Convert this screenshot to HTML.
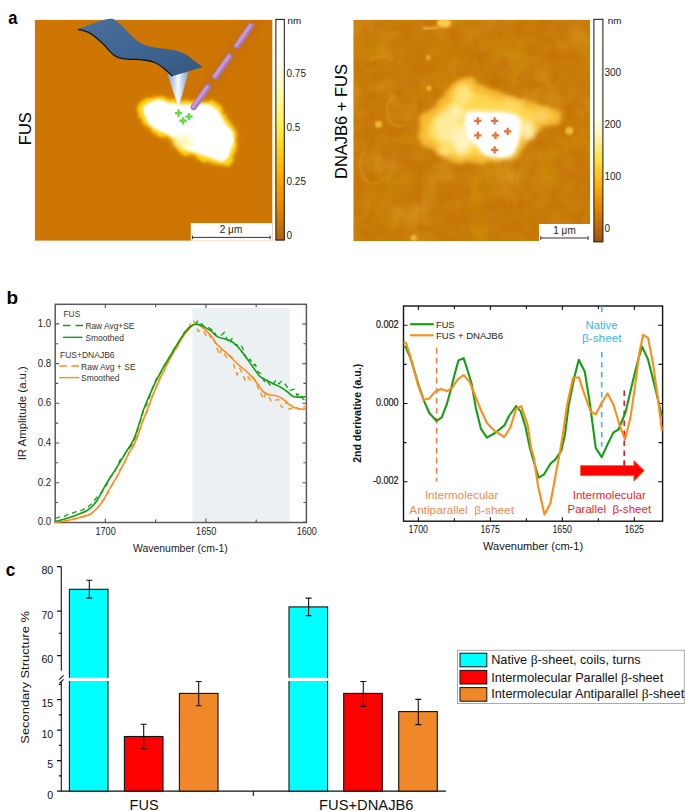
<!DOCTYPE html>
<html><head><meta charset="utf-8"><title>Figure</title><style>
html,body{margin:0;padding:0;background:#fff;width:685px;height:811px;overflow:hidden}
svg{display:block}
text{font-family:"Liberation Sans",sans-serif}
</style></head><body>
<svg width="685" height="811" viewBox="0 0 685 811">
<text x="8.3" y="24.2" font-size="18.0" text-anchor="start" fill="#000" font-weight="bold" textLength="9.2" lengthAdjust="spacingAndGlyphs">a</text>
<text x="6.6" y="303.6" font-size="18.0" text-anchor="start" fill="#000" font-weight="bold" textLength="11.6" lengthAdjust="spacingAndGlyphs">b</text>
<text x="5.7" y="576.4" font-size="17.5" text-anchor="start" fill="#000" font-weight="bold" textLength="9.6" lengthAdjust="spacingAndGlyphs">c</text>
<defs>
<filter id="blur3" x="-30%" y="-30%" width="160%" height="160%"><feGaussianBlur stdDeviation="3"/></filter>
<filter id="blur2" x="-30%" y="-30%" width="160%" height="160%"><feGaussianBlur stdDeviation="2"/></filter>
<filter id="blur1" x="-30%" y="-30%" width="160%" height="160%"><feGaussianBlur stdDeviation="1.2"/></filter>
<filter id="erode3" x="-30%" y="-30%" width="160%" height="160%"><feMorphology operator="erode" radius="3"/><feGaussianBlur stdDeviation="1.3"/></filter>
<filter id="erode6" x="-30%" y="-30%" width="160%" height="160%"><feMorphology operator="erode" radius="6"/><feGaussianBlur stdDeviation="2.5"/></filter>
<filter id="bumpy" x="-30%" y="-30%" width="160%" height="160%"><feTurbulence type="fractalNoise" baseFrequency="0.09" numOctaves="2" seed="4" result="n"/><feDisplacementMap in="SourceGraphic" in2="n" scale="9" xChannelSelector="R" yChannelSelector="G" result="d"/><feGaussianBlur in="d" stdDeviation="1.6"/></filter>
<filter id="bumpy2" x="-30%" y="-30%" width="160%" height="160%"><feTurbulence type="fractalNoise" baseFrequency="0.07" numOctaves="2" seed="8" result="n"/><feDisplacementMap in="SourceGraphic" in2="n" scale="13" xChannelSelector="R" yChannelSelector="G" result="d"/><feGaussianBlur in="d" stdDeviation="2.0"/></filter>
<filter id="blur5" x="-30%" y="-30%" width="160%" height="160%"><feGaussianBlur stdDeviation="5"/></filter>
<filter id="noise1" x="0" y="0" width="100%" height="100%">
  <feTurbulence type="fractalNoise" baseFrequency="0.08" numOctaves="2" seed="3" result="t"/>
  <feColorMatrix in="t" type="matrix" values="0 0 0 0 0.80  0 0 0 0 0.47  0 0 0 0 0.02  0 0 0 0.25 -0.02" result="c"/>
  <feComposite in="c" in2="SourceGraphic" operator="in"/>
</filter>
<filter id="noise3" x="0" y="0" width="100%" height="100%">
  <feTurbulence type="fractalNoise" baseFrequency="0.03" numOctaves="3" seed="21" result="t"/>
  <feColorMatrix in="t" type="matrix" values="0 0 0 0 0.62  0 0 0 0 0.34  0 0 0 0 0.0  0 0 0 1.0 -0.50" result="c"/>
  <feComposite in="c" in2="SourceGraphic" operator="in"/>
</filter>
<filter id="noise2" x="0" y="0" width="100%" height="100%">
  <feTurbulence type="fractalNoise" baseFrequency="0.025" numOctaves="3" seed="11" result="t"/>
  <feColorMatrix in="t" type="matrix" values="0 0 0 0 0.88  0 0 0 0 0.54  0 0 0 0 0.06  0 0 0 0.8 -0.40" result="c"/>
  <feComposite in="c" in2="SourceGraphic" operator="in"/>
</filter>
<linearGradient id="cb1" x1="0" y1="0" x2="0" y2="1">
  <stop offset="0" stop-color="#ffffff"/>
  <stop offset="0.2" stop-color="#fffff0"/>
  <stop offset="0.34" stop-color="#fffaa8"/>
  <stop offset="0.47" stop-color="#fff250"/>
  <stop offset="0.58" stop-color="#ffd420"/>
  <stop offset="0.70" stop-color="#ffac00"/>
  <stop offset="0.84" stop-color="#e88a00"/>
  <stop offset="1" stop-color="#b06212"/>
</linearGradient>
<linearGradient id="cb2" x1="0" y1="0" x2="0" y2="1">
  <stop offset="0" stop-color="#ffffff"/>
  <stop offset="0.44" stop-color="#fffff2"/>
  <stop offset="0.53" stop-color="#fff4b0"/>
  <stop offset="0.63" stop-color="#ffe040"/>
  <stop offset="0.73" stop-color="#ffb410"/>
  <stop offset="0.83" stop-color="#e88a00"/>
  <stop offset="1" stop-color="#a05010"/>
</linearGradient>
<linearGradient id="cant" x1="0" y1="0" x2="1" y2="1">
  <stop offset="0" stop-color="#4a6f9c"/>
  <stop offset="0.5" stop-color="#3f6592"/>
  <stop offset="1" stop-color="#35577f"/>
</linearGradient>
<linearGradient id="tipg" x1="0" y1="0" x2="1" y2="0">
  <stop offset="0" stop-color="#7f9fc8"/>
  <stop offset="0.5" stop-color="#f4f8ff"/>
  <stop offset="1" stop-color="#7f9fc8"/>
</linearGradient>
<clipPath id="clip1"><rect x="35" y="20" width="237.3" height="220.7"/></clipPath>
<clipPath id="clip2"><rect x="353.3" y="19.7" width="236.7" height="221.3"/></clipPath>
</defs>
<g clip-path="url(#clip1)">
<rect x="35" y="20" width="237.3" height="220.7" fill="#cd7603"/>
<line x1="262" y1="12" x2="192.7" y2="108.6" stroke="#b05a20" stroke-width="16" opacity="0.2" filter="url(#blur3)"/>
<path d="M140.5,104.3 C141.8,102.2 144.9,100.3 147.5,99.0 C150.1,97.7 153.4,96.7 156.3,96.4 C159.2,96.1 162.4,96.7 165.0,97.3 C167.6,97.9 169.1,99.3 172.0,99.9 C174.9,100.5 179.3,100.5 182.5,100.8 C185.7,101.1 187.8,101.6 191.3,101.6 C194.8,101.6 200.1,100.8 203.6,100.8 C207.1,100.8 209.4,100.4 212.3,101.6 C215.2,102.8 218.5,104.7 221.1,107.8 C223.7,110.9 225.8,116.7 228.1,120.0 C230.4,123.3 233.6,125.3 235.1,127.9 C236.6,130.5 236.5,133.0 236.8,135.8 C237.1,138.6 237.4,141.3 236.8,144.5 C236.2,147.7 234.5,152.1 233.3,155.0 C232.1,157.9 231.8,160.3 229.8,162.1 C227.8,163.9 224.3,165.6 221.1,165.6 C217.9,165.6 214.1,163.3 210.6,162.1 C207.1,160.9 203.5,159.8 200.0,158.6 C196.5,157.4 192.7,156.2 189.5,155.0 C186.3,153.8 183.1,153.2 180.8,151.5 C178.5,149.8 178.1,146.8 175.5,144.5 C172.9,142.2 168.2,139.2 165.0,137.5 C161.8,135.8 159.2,135.4 156.3,134.0 C153.4,132.6 149.8,131.1 147.5,128.8 C145.2,126.5 143.6,122.9 142.3,120.0 C141.0,117.1 139.9,113.9 139.6,111.3 C139.3,108.7 139.2,106.3 140.5,104.3Z" fill="#e69010" filter="url(#blur3)"/>
<path d="M140.5,104.3 C141.8,102.2 144.9,100.3 147.5,99.0 C150.1,97.7 153.4,96.7 156.3,96.4 C159.2,96.1 162.4,96.7 165.0,97.3 C167.6,97.9 169.1,99.3 172.0,99.9 C174.9,100.5 179.3,100.5 182.5,100.8 C185.7,101.1 187.8,101.6 191.3,101.6 C194.8,101.6 200.1,100.8 203.6,100.8 C207.1,100.8 209.4,100.4 212.3,101.6 C215.2,102.8 218.5,104.7 221.1,107.8 C223.7,110.9 225.8,116.7 228.1,120.0 C230.4,123.3 233.6,125.3 235.1,127.9 C236.6,130.5 236.5,133.0 236.8,135.8 C237.1,138.6 237.4,141.3 236.8,144.5 C236.2,147.7 234.5,152.1 233.3,155.0 C232.1,157.9 231.8,160.3 229.8,162.1 C227.8,163.9 224.3,165.6 221.1,165.6 C217.9,165.6 214.1,163.3 210.6,162.1 C207.1,160.9 203.5,159.8 200.0,158.6 C196.5,157.4 192.7,156.2 189.5,155.0 C186.3,153.8 183.1,153.2 180.8,151.5 C178.5,149.8 178.1,146.8 175.5,144.5 C172.9,142.2 168.2,139.2 165.0,137.5 C161.8,135.8 159.2,135.4 156.3,134.0 C153.4,132.6 149.8,131.1 147.5,128.8 C145.2,126.5 143.6,122.9 142.3,120.0 C141.0,117.1 139.9,113.9 139.6,111.3 C139.3,108.7 139.2,106.3 140.5,104.3Z" fill="#ffd414" filter="url(#bumpy)"/>
<path d="M140.5,104.3 C141.8,102.2 144.9,100.3 147.5,99.0 C150.1,97.7 153.4,96.7 156.3,96.4 C159.2,96.1 162.4,96.7 165.0,97.3 C167.6,97.9 169.1,99.3 172.0,99.9 C174.9,100.5 179.3,100.5 182.5,100.8 C185.7,101.1 187.8,101.6 191.3,101.6 C194.8,101.6 200.1,100.8 203.6,100.8 C207.1,100.8 209.4,100.4 212.3,101.6 C215.2,102.8 218.5,104.7 221.1,107.8 C223.7,110.9 225.8,116.7 228.1,120.0 C230.4,123.3 233.6,125.3 235.1,127.9 C236.6,130.5 236.5,133.0 236.8,135.8 C237.1,138.6 237.4,141.3 236.8,144.5 C236.2,147.7 234.5,152.1 233.3,155.0 C232.1,157.9 231.8,160.3 229.8,162.1 C227.8,163.9 224.3,165.6 221.1,165.6 C217.9,165.6 214.1,163.3 210.6,162.1 C207.1,160.9 203.5,159.8 200.0,158.6 C196.5,157.4 192.7,156.2 189.5,155.0 C186.3,153.8 183.1,153.2 180.8,151.5 C178.5,149.8 178.1,146.8 175.5,144.5 C172.9,142.2 168.2,139.2 165.0,137.5 C161.8,135.8 159.2,135.4 156.3,134.0 C153.4,132.6 149.8,131.1 147.5,128.8 C145.2,126.5 143.6,122.9 142.3,120.0 C141.0,117.1 139.9,113.9 139.6,111.3 C139.3,108.7 139.2,106.3 140.5,104.3Z" fill="#ffffff" filter="url(#erode3)"/>
<ellipse cx="183" cy="142" rx="9" ry="6" fill="#fff4b0" filter="url(#blur3)"/>
</g>
<rect x="35" y="20" width="237.3" height="220.7" fill="none" stroke="#d08a3a" stroke-width="0.6" opacity="0.5"/>
<path d="M167.5,74.5 L188.5,72 L178.5,108 Z" fill="url(#tipg)"/>
<path d="M77.8,29.3 C82.8,27.6 100.9,20.1 107.8,19.1 C114.7,18.1 115.1,20.5 119.0,23.2 C122.9,25.9 127.6,32.0 131.3,35.4 C135.1,38.8 137.4,41.5 141.5,43.6 C145.6,45.7 150.7,46.7 155.8,47.7 C160.9,48.7 167.4,48.7 172.2,49.7 C177.0,50.7 180.7,51.9 184.4,53.8 C188.2,55.7 191.6,58.8 194.7,61.0 C197.8,63.2 201.5,66.1 202.8,67.1 L172.2,76.3 C171.2,75.3 168.8,72.4 166.1,70.2 C163.4,68.0 159.6,64.7 155.8,63.0 C152.1,61.3 148.7,60.7 143.6,60.0 C138.5,59.3 130.0,59.6 125.2,58.9 C120.4,58.2 118.8,58.4 115.0,55.9 C111.2,53.4 106.8,47.4 102.7,43.6 C98.6,39.9 94.6,35.8 90.4,33.4 C86.2,31.0 79.9,30.0 77.8,29.3Z" fill="url(#cant)"/>
<path d="M77.8,29.3 C79.9,30.0 86.2,31.0 90.4,33.4 C94.6,35.8 98.6,39.9 102.7,43.6 C106.8,47.4 111.2,53.4 115.0,55.9 C118.8,58.4 120.4,58.2 125.2,58.9 C130.0,59.6 138.5,59.3 143.6,60.0 C148.7,60.7 152.1,61.3 155.8,63.0 C159.6,64.7 163.4,68.0 166.1,70.2 C168.8,72.4 171.2,75.3 172.2,76.3" fill="none" stroke="#111820" stroke-width="1.3"/>
<line x1="251" y1="25.8" x2="192.7" y2="108.6" stroke="#a878c0" stroke-width="6.2" stroke-linecap="round" stroke-dasharray="24.5 13"/>
<line x1="251" y1="25.8" x2="192.7" y2="108.6" stroke="#c49ad8" stroke-width="3" stroke-linecap="round" stroke-dasharray="24.5 13" transform="translate(-0.6,-0.4)"/>
<path d="M174.9,113.1 h7.2 M178.5,109.5 v7.2" stroke="#5ce040" stroke-width="2.4"/>
<path d="M185.4,116.5 h7.2 M189.0,112.9 v7.2" stroke="#5ce040" stroke-width="2.4"/>
<path d="M179.5,120.8 h7.2 M183.1,117.2 v7.2" stroke="#5ce040" stroke-width="2.4"/>
<rect x="190.8" y="223.1" width="81.3" height="17.6" fill="#fff"/>
<path d="M192.2,237.4 H270.3 M192.4,235.6 V239.2 M270.1,235.6 V239.2" stroke="#333" stroke-width="1"/>
<text x="231.0" y="233.3" font-size="10.0" text-anchor="middle" fill="#222" font-weight="normal">2 μm</text>
<rect x="275.9" y="19.4" width="8.4" height="220.7" fill="url(#cb1)" stroke="#111" stroke-width="1"/>
<text x="287.5" y="24.2" font-size="9.8" text-anchor="start" fill="#111" font-weight="normal">nm</text>
<text x="286.5" y="76.5" font-size="10.0" text-anchor="start" fill="#222" font-weight="normal">0.75</text>
<text x="286.5" y="130.5" font-size="10.0" text-anchor="start" fill="#222" font-weight="normal">0.5</text>
<text x="286.5" y="184.5" font-size="10.0" text-anchor="start" fill="#222" font-weight="normal">0.25</text>
<text x="286.5" y="239.2" font-size="10.0" text-anchor="start" fill="#222" font-weight="normal">0</text>
<text transform="translate(31,128.7) rotate(-90)" font-size="16.5" text-anchor="middle" fill="#000">FUS</text>
<g clip-path="url(#clip2)">
<rect x="353.3" y="19.7" width="236.7" height="221.3" fill="#c47206"/>
<rect x="353.3" y="19.7" width="236.7" height="221.3" fill="#000" filter="url(#noise1)"/>
<rect x="353.3" y="19.7" width="236.7" height="221.3" fill="#000" filter="url(#noise2)"/>
<rect x="353.3" y="19.7" width="236.7" height="221.3" fill="#000" filter="url(#noise3)"/>
<path d="M375,20 L372,241 M418,20 L421,241 M470,20 L520,241 M540,20 L505,241 M365,150 L460,241" stroke="#b06a08" stroke-width="0.7" opacity="0.25" fill="none"/>
<path d="M395,95 q-12,10 -6,25 q6,10 16,4 M365,150 q-10,15 0,30 q10,8 18,-2 M370,60 q10,-8 22,0" stroke="#dc9a2a" stroke-width="2" opacity="0.6" fill="none" filter="url(#blur1)"/>
<path d="M419.3,137.8 C419.7,133.5 421.6,121.8 424.0,116.7 C426.4,111.6 429.9,110.9 433.4,107.4 C436.9,103.9 441.1,100.0 445.0,95.7 C448.9,91.4 452.8,84.4 456.7,81.7 C460.6,79.0 464.9,78.5 468.4,79.3 C471.9,80.1 474.3,84.8 477.8,86.4 C481.3,88.0 485.5,87.5 489.4,88.7 C493.3,89.9 497.2,91.9 501.1,93.4 C505.0,95.0 508.5,96.8 512.8,98.0 C517.1,99.2 522.1,98.8 526.8,100.4 C531.5,102.0 536.1,105.9 540.8,107.4 C545.5,109.0 551.4,108.9 554.9,109.7 C558.4,110.5 561.1,110.1 561.9,112.1 C562.7,114.0 562.2,119.1 559.5,121.4 C556.8,123.7 549.8,124.5 545.5,126.1 C541.2,127.6 537.3,127.6 533.8,130.7 C530.3,133.8 527.2,140.5 524.5,144.8 C521.8,149.1 521.0,153.9 517.5,156.4 C514.0,158.9 508.2,159.4 503.5,160.0 C498.8,160.6 494.1,159.8 489.4,160.0 C484.7,160.2 480.1,160.5 475.4,161.1 C470.7,161.7 465.7,163.5 461.4,163.5 C457.1,163.5 453.2,163.0 449.7,161.1 C446.2,159.2 443.9,154.1 440.4,151.8 C436.9,149.5 431.8,148.7 428.7,147.1 C425.6,145.5 423.3,143.9 421.7,142.4 C420.1,140.9 418.9,142.1 419.3,137.8Z" fill="#e0a028" filter="url(#blur3)"/>
<path d="M419.3,137.8 C419.7,133.5 421.6,121.8 424.0,116.7 C426.4,111.6 429.9,110.9 433.4,107.4 C436.9,103.9 441.1,100.0 445.0,95.7 C448.9,91.4 452.8,84.4 456.7,81.7 C460.6,79.0 464.9,78.5 468.4,79.3 C471.9,80.1 474.3,84.8 477.8,86.4 C481.3,88.0 485.5,87.5 489.4,88.7 C493.3,89.9 497.2,91.9 501.1,93.4 C505.0,95.0 508.5,96.8 512.8,98.0 C517.1,99.2 522.1,98.8 526.8,100.4 C531.5,102.0 536.1,105.9 540.8,107.4 C545.5,109.0 551.4,108.9 554.9,109.7 C558.4,110.5 561.1,110.1 561.9,112.1 C562.7,114.0 562.2,119.1 559.5,121.4 C556.8,123.7 549.8,124.5 545.5,126.1 C541.2,127.6 537.3,127.6 533.8,130.7 C530.3,133.8 527.2,140.5 524.5,144.8 C521.8,149.1 521.0,153.9 517.5,156.4 C514.0,158.9 508.2,159.4 503.5,160.0 C498.8,160.6 494.1,159.8 489.4,160.0 C484.7,160.2 480.1,160.5 475.4,161.1 C470.7,161.7 465.7,163.5 461.4,163.5 C457.1,163.5 453.2,163.0 449.7,161.1 C446.2,159.2 443.9,154.1 440.4,151.8 C436.9,149.5 431.8,148.7 428.7,147.1 C425.6,145.5 423.3,143.9 421.7,142.4 C420.1,140.9 418.9,142.1 419.3,137.8Z" fill="#f6bc34" filter="url(#bumpy2)"/>
<path d="M419.3,137.8 C419.7,133.5 421.6,121.8 424.0,116.7 C426.4,111.6 429.9,110.9 433.4,107.4 C436.9,103.9 441.1,100.0 445.0,95.7 C448.9,91.4 452.8,84.4 456.7,81.7 C460.6,79.0 464.9,78.5 468.4,79.3 C471.9,80.1 474.3,84.8 477.8,86.4 C481.3,88.0 485.5,87.5 489.4,88.7 C493.3,89.9 497.2,91.9 501.1,93.4 C505.0,95.0 508.5,96.8 512.8,98.0 C517.1,99.2 522.1,98.8 526.8,100.4 C531.5,102.0 536.1,105.9 540.8,107.4 C545.5,109.0 551.4,108.9 554.9,109.7 C558.4,110.5 561.1,110.1 561.9,112.1 C562.7,114.0 562.2,119.1 559.5,121.4 C556.8,123.7 549.8,124.5 545.5,126.1 C541.2,127.6 537.3,127.6 533.8,130.7 C530.3,133.8 527.2,140.5 524.5,144.8 C521.8,149.1 521.0,153.9 517.5,156.4 C514.0,158.9 508.2,159.4 503.5,160.0 C498.8,160.6 494.1,159.8 489.4,160.0 C484.7,160.2 480.1,160.5 475.4,161.1 C470.7,161.7 465.7,163.5 461.4,163.5 C457.1,163.5 453.2,163.0 449.7,161.1 C446.2,159.2 443.9,154.1 440.4,151.8 C436.9,149.5 431.8,148.7 428.7,147.1 C425.6,145.5 423.3,143.9 421.7,142.4 C420.1,140.9 418.9,142.1 419.3,137.8Z" fill="#ffd850" filter="url(#erode6)"/>
<ellipse cx="447" cy="128" rx="13" ry="16" fill="#ffec9c" filter="url(#blur3)"/>
<ellipse cx="463" cy="95" rx="9" ry="11" fill="#ffe47c" filter="url(#blur3)"/>
<ellipse cx="462" cy="140" rx="10" ry="14" fill="#fff4c0" filter="url(#blur3)"/>
<ellipse cx="456" cy="112" rx="8" ry="8" fill="#fff2b0" filter="url(#blur3)"/>
<ellipse cx="528" cy="130" rx="7" ry="10" fill="#fff0b0" filter="url(#blur3)"/>
<ellipse cx="540" cy="115" rx="10" ry="6" fill="#f8d060" filter="url(#blur3)"/>
<ellipse cx="510" cy="105" rx="12" ry="6" fill="#ffd860" filter="url(#blur3)"/>
<ellipse cx="445" cy="150" rx="8" ry="6" fill="#ffe27a" filter="url(#blur3)"/>
<path d="M466.1,112.1 C468.8,109.6 473.1,110.9 480.1,110.9 C487.1,110.9 501.5,111.1 508.1,112.1 C514.7,113.1 517.5,114.8 519.8,116.7 C522.1,118.6 522.1,119.8 522.1,123.7 C522.1,127.6 521.0,135.4 519.8,140.1 C518.6,144.8 517.0,148.9 515.1,151.8 C513.2,154.7 511.6,156.6 508.1,157.6 C504.6,158.6 498.4,158.2 494.1,157.6 C489.8,157.0 485.1,155.8 482.4,154.1 C479.7,152.3 480.1,149.4 477.8,147.1 C475.5,144.8 470.8,143.6 468.4,140.1 C466.0,136.6 464.1,130.8 463.7,126.1 C463.3,121.4 463.4,114.6 466.1,112.1Z" fill="#fff8d8" filter="url(#blur2)"/>
<path d="M466.1,112.1 C468.8,109.6 473.1,110.9 480.1,110.9 C487.1,110.9 501.5,111.1 508.1,112.1 C514.7,113.1 517.5,114.8 519.8,116.7 C522.1,118.6 522.1,119.8 522.1,123.7 C522.1,127.6 521.0,135.4 519.8,140.1 C518.6,144.8 517.0,148.9 515.1,151.8 C513.2,154.7 511.6,156.6 508.1,157.6 C504.6,158.6 498.4,158.2 494.1,157.6 C489.8,157.0 485.1,155.8 482.4,154.1 C479.7,152.3 480.1,149.4 477.8,147.1 C475.5,144.8 470.8,143.6 468.4,140.1 C466.0,136.6 464.1,130.8 463.7,126.1 C463.3,121.4 463.4,114.6 466.1,112.1Z" fill="#ffffff" filter="url(#blur1)" transform="translate(493,134) scale(0.92) translate(-493,-134)"/>
<circle cx="378.6" cy="124.2" r="3.5" fill="#f0b838" filter="url(#blur1)"/>
<circle cx="569.3" cy="130.7" r="4.0" fill="#f0b838" filter="url(#blur1)"/>
<circle cx="429.0" cy="88.3" r="2.5" fill="#f0b838" filter="url(#blur1)"/>
<circle cx="428.2" cy="57.6" r="2.2" fill="#f0b838" filter="url(#blur1)"/>
<circle cx="413.6" cy="238.0" r="3.0" fill="#f0b838" filter="url(#blur1)"/>
<ellipse cx="444" cy="23" rx="7" ry="4.5" fill="#f8cc48" filter="url(#blur1)"/>
<path d="M424,28 q8,2 16,-2" stroke="#e8a830" stroke-width="3" stroke-linecap="round" fill="none" filter="url(#blur1)"/>
</g>
<path d="M474.1,120.9 h7.4 M477.8,117.2 v7.4" stroke="#e8743a" stroke-width="2.3"/>
<path d="M490.9,120.9 h7.4 M494.6,117.2 v7.4" stroke="#e8743a" stroke-width="2.3"/>
<path d="M474.1,135.4 h7.4 M477.8,131.7 v7.4" stroke="#e8743a" stroke-width="2.3"/>
<path d="M491.8,135.4 h7.4 M495.5,131.7 v7.4" stroke="#e8743a" stroke-width="2.3"/>
<path d="M504.0,131.4 h7.4 M507.7,127.7 v7.4" stroke="#e8743a" stroke-width="2.3"/>
<path d="M490.9,149.9 h7.4 M494.6,146.2 v7.4" stroke="#e8743a" stroke-width="2.3"/>
<rect x="539" y="224" width="51" height="17" fill="#fff"/>
<path d="M540.6,238 H588.3 M540.8,236.2 V239.8 M588.1,236.2 V239.8" stroke="#333" stroke-width="1"/>
<text x="564.5" y="233.8" font-size="10.0" text-anchor="middle" fill="#222" font-weight="normal">1 μm</text>
<rect x="593.9" y="19.3" width="9" height="222.6" fill="url(#cb2)" stroke="#111" stroke-width="1"/>
<text x="607.7" y="23.8" font-size="9.8" text-anchor="start" fill="#111" font-weight="normal">nm</text>
<text x="604.5" y="76.0" font-size="10.0" text-anchor="start" fill="#222" font-weight="normal">300</text>
<text x="604.5" y="127.9" font-size="10.0" text-anchor="start" fill="#222" font-weight="normal">200</text>
<text x="604.5" y="179.7" font-size="10.0" text-anchor="start" fill="#222" font-weight="normal">100</text>
<text x="604.5" y="231.5" font-size="10.0" text-anchor="start" fill="#222" font-weight="normal">0</text>
<text transform="translate(347,121.5) rotate(-90)" font-size="16.5" text-anchor="middle" fill="#000">DNAJB6 + FUS</text>
<rect x="192.4" y="308" width="97.4" height="213.5" fill="#ebf0f3"/>
<rect x="55.2" y="304.3" width="251.2" height="218.2" fill="none" stroke="#5a5a5a" stroke-width="1.5"/>
<path d="M55.2,522.4 h4.0 M306.4,522.4 h-4.0 M55.2,502.5 h3.0 M306.4,502.5 h-3.0 M55.2,482.7 h4.0 M306.4,482.7 h-4.0 M55.2,462.8 h3.0 M306.4,462.8 h-3.0 M55.2,443.0 h4.0 M306.4,443.0 h-4.0 M55.2,423.1 h3.0 M306.4,423.1 h-3.0 M55.2,403.3 h4.0 M306.4,403.3 h-4.0 M55.2,383.4 h3.0 M306.4,383.4 h-3.0 M55.2,363.6 h4.0 M306.4,363.6 h-4.0 M55.2,343.8 h3.0 M306.4,343.8 h-3.0 M55.2,323.9 h4.0 M306.4,323.9 h-4.0 M105.3,522.5 v-4.0 M105.3,304.3 v4.0 M155.6,522.5 v-3.0 M155.6,304.3 v3.0 M205.9,522.5 v-4.0 M205.9,304.3 v4.0 M256.2,522.5 v-3.0 M256.2,304.3 v3.0" stroke="#555" stroke-width="1.1"/>
<text x="51.2" y="525.3" font-size="10.3" text-anchor="end" fill="#222" font-weight="normal" textLength="13.4" lengthAdjust="spacingAndGlyphs">0.0</text>
<text x="51.2" y="485.6" font-size="10.3" text-anchor="end" fill="#222" font-weight="normal" textLength="13.4" lengthAdjust="spacingAndGlyphs">0.2</text>
<text x="51.2" y="445.9" font-size="10.3" text-anchor="end" fill="#222" font-weight="normal" textLength="13.4" lengthAdjust="spacingAndGlyphs">0.4</text>
<text x="51.2" y="406.2" font-size="10.3" text-anchor="end" fill="#222" font-weight="normal" textLength="13.4" lengthAdjust="spacingAndGlyphs">0.6</text>
<text x="51.2" y="366.5" font-size="10.3" text-anchor="end" fill="#222" font-weight="normal" textLength="13.4" lengthAdjust="spacingAndGlyphs">0.8</text>
<text x="51.2" y="326.8" font-size="10.3" text-anchor="end" fill="#222" font-weight="normal" textLength="13.4" lengthAdjust="spacingAndGlyphs">1.0</text>
<text x="105.6" y="534.7" font-size="10.3" text-anchor="middle" fill="#222" font-weight="normal" textLength="20.2" lengthAdjust="spacingAndGlyphs">1700</text>
<text x="206.2" y="534.7" font-size="10.3" text-anchor="middle" fill="#222" font-weight="normal" textLength="20.2" lengthAdjust="spacingAndGlyphs">1650</text>
<text x="306.8" y="534.7" font-size="10.3" text-anchor="middle" fill="#222" font-weight="normal" textLength="20.2" lengthAdjust="spacingAndGlyphs">1600</text>
<text x="180.4" y="552.0" font-size="11.0" text-anchor="middle" fill="#222" font-weight="normal" textLength="94.8" lengthAdjust="spacingAndGlyphs">Wavenumber (cm-1)</text>
<text transform="translate(26.3,413.2) rotate(-90)" font-size="11.7" text-anchor="middle" fill="#222" textLength="94.2" lengthAdjust="spacingAndGlyphs">IR Amplitude (a.u.)</text>
<path d="M55.2,522.6 L57.8,522.1 L60.4,521.2 L63.0,522.0 L65.6,520.5 L68.2,520.4 L70.8,520.8 L73.4,519.0 L76.0,518.7 L78.6,518.4 L81.2,516.8 L83.8,516.1 L86.4,516.0 L89.0,515.0 L91.6,513.8 L94.2,510.8 L96.8,508.4 L99.4,504.8 L102.0,501.4 L104.6,499.2 L107.2,494.2 L109.8,490.1 L112.4,484.4 L115.0,480.8 L117.6,474.3 L120.2,469.3 L122.8,465.4 L125.4,461.1 L128.0,455.1 L130.6,448.8 L133.2,443.9 L135.8,438.5 L138.4,431.5 L141.0,426.6 L143.6,418.2 L146.2,413.4 L148.8,407.8 L151.4,398.5 L154.0,391.9 L156.6,386.0 L159.2,378.7 L161.8,373.9 L164.4,370.6 L167.0,363.6 L169.6,359.7 L172.2,353.5 L174.8,349.9 L177.4,347.4 L180.0,341.2 L182.6,335.2 L185.2,331.2 L187.8,331.4 L190.4,323.9 L193.0,320.4 L195.6,323.7 L198.2,331.3 L200.8,330.4 L203.4,330.9 L206.0,335.4 L208.6,332.7 L211.2,338.7 L213.8,338.8 L216.4,346.0 L219.0,354.6 L221.6,349.4 L224.2,353.8 L226.8,357.7 L229.4,355.4 L232.0,357.1 L234.6,368.0 L237.2,374.8 L239.8,368.5 L242.4,373.5 L245.0,380.1 L247.6,376.2 L250.2,380.1 L252.8,376.6 L255.4,380.6 L258.0,387.9 L260.6,392.7 L263.2,398.9 L265.8,393.4 L268.4,394.5 L271.0,401.2 L273.6,401.2 L276.2,399.9 L278.8,399.6 L281.4,407.0 L284.0,407.2 L286.6,401.8 L289.2,409.3 L291.8,408.0 L294.4,409.4 L297.0,407.5 L299.6,409.2 L302.2,408.8 L304.8,406.0" fill="none" stroke="#ff8c1a" stroke-width="1.3" stroke-dasharray="5 4"/>
<path d="M55.2,518.0 L57.8,517.7 L60.4,516.8 L63.0,516.5 L65.6,516.0 L68.2,514.1 L70.8,512.6 L73.4,513.1 L76.0,511.7 L78.6,510.4 L81.2,510.7 L83.8,509.2 L86.4,508.6 L89.0,506.1 L91.6,503.9 L94.2,500.6 L96.8,497.4 L99.4,494.1 L102.0,492.1 L104.6,488.1 L107.2,483.8 L109.8,477.3 L112.4,474.8 L115.0,470.8 L117.6,465.6 L120.2,459.6 L122.8,457.8 L125.4,453.2 L128.0,449.7 L130.6,446.3 L133.2,441.9 L135.8,435.8 L138.4,426.6 L141.0,419.7 L143.6,410.2 L146.2,405.5 L148.8,399.9 L151.4,390.9 L154.0,384.0 L156.6,378.5 L159.2,376.2 L161.8,370.3 L164.4,366.3 L167.0,360.8 L169.6,356.8 L172.2,352.1 L174.8,347.5 L177.4,343.9 L180.0,340.0 L182.6,337.7 L185.2,330.1 L187.8,328.4 L190.4,326.4 L193.0,325.1 L195.6,323.5 L198.2,320.4 L200.8,323.2 L203.4,325.7 L206.0,327.6 L208.6,327.7 L211.2,329.3 L213.8,330.1 L216.4,336.1 L219.0,337.1 L221.6,335.1 L224.2,332.5 L226.8,338.7 L229.4,343.6 L232.0,338.7 L234.6,344.3 L237.2,344.8 L239.8,344.3 L242.4,347.4 L245.0,354.9 L247.6,361.5 L250.2,359.2 L252.8,365.0 L255.4,364.5 L258.0,372.2 L260.6,373.4 L263.2,379.3 L265.8,383.8 L268.4,382.3 L271.0,386.7 L273.6,383.3 L276.2,380.1 L278.8,383.9 L281.4,381.3 L284.0,382.7 L286.6,386.2 L289.2,390.7 L291.8,389.9 L294.4,389.2 L297.0,395.4 L299.6,393.5 L302.2,398.4 L304.8,400.3" fill="none" stroke="#12a012" stroke-width="1.3" stroke-dasharray="5 4"/>
<path d="M55.2,522.2 C57.1,522.0 62.4,521.6 66.7,520.7 C71.0,519.9 77.4,518.2 81.3,517.1 C85.2,516.0 87.3,515.7 90.0,514.2 C92.7,512.7 95.1,510.6 97.3,508.3 C99.5,506.0 101.0,503.8 103.2,500.3 C105.4,496.8 107.8,491.8 110.5,487.2 C113.2,482.6 116.3,478.0 119.2,472.6 C122.1,467.2 125.3,460.1 128.0,455.0 C130.7,449.9 132.8,447.7 135.3,441.9 C137.9,436.1 141.4,425.1 143.3,420.0 C145.2,414.9 144.5,416.6 146.6,411.3 C148.7,406.0 152.7,395.4 155.8,388.2 C158.9,381.0 162.0,374.4 165.1,368.2 C168.2,362.0 171.2,356.6 174.3,351.2 C177.4,345.8 181.0,339.6 183.6,335.8 C186.2,332.0 187.9,330.0 189.7,328.1 C191.5,326.2 192.8,324.8 194.3,324.3 C195.9,323.8 197.2,324.1 199.0,325.0 C200.8,325.9 202.8,327.5 205.1,329.7 C207.4,331.9 211.2,336.1 212.8,338.1 C214.5,340.2 213.5,340.2 215.0,342.0 C216.5,343.8 219.6,346.8 221.9,349.0 C224.2,351.2 226.4,352.8 228.9,355.2 C231.4,357.6 234.4,360.9 237.2,363.5 C240.0,366.1 243.0,368.2 245.5,370.5 C248.0,372.8 250.3,375.1 252.4,377.4 C254.5,379.7 256.3,382.0 258.0,384.3 C259.7,386.6 260.9,389.6 262.8,391.3 C264.7,393.0 266.9,394.0 269.1,394.7 C271.3,395.4 273.9,395.1 276.0,395.7 C278.1,396.3 279.5,396.8 281.6,398.2 C283.7,399.6 286.2,402.2 288.5,403.8 C290.8,405.4 292.5,407.0 295.4,407.9 C298.3,408.8 304.1,409.1 305.8,409.3" fill="none" stroke="#ff8c1a" stroke-width="1.6"/>
<path d="M55.2,521.5 C56.6,521.1 60.2,520.4 63.8,519.3 C67.4,518.2 73.0,516.4 76.9,514.9 C80.8,513.4 84.2,512.3 87.1,510.5 C90.0,508.7 92.5,506.1 94.4,503.9 C96.4,501.7 96.8,500.7 98.8,497.4 C100.8,494.1 103.2,489.1 106.1,484.2 C109.0,479.3 113.1,473.3 116.3,468.2 C119.5,463.1 122.2,458.5 125.1,453.6 C128.0,448.7 131.2,444.6 133.8,439.0 C136.4,433.4 138.8,424.9 140.4,420.0 C142.0,415.1 141.4,415.1 143.5,409.8 C145.6,404.5 149.6,394.9 152.7,388.2 C155.8,381.5 158.9,375.3 162.0,369.7 C165.1,364.1 168.1,359.4 171.2,354.3 C174.3,349.2 177.9,342.9 180.5,338.9 C183.1,334.9 184.5,332.7 186.6,330.4 C188.7,328.1 191.0,326.0 192.8,325.0 C194.6,324.0 195.6,324.0 197.4,324.3 C199.2,324.6 201.3,325.5 203.6,326.6 C205.9,327.8 209.0,329.5 211.3,331.2 C213.6,332.9 214.9,335.2 217.4,336.6 C219.9,338.0 223.7,338.5 226.1,339.3 C228.5,340.1 229.5,340.0 231.6,341.4 C233.7,342.8 236.3,345.1 238.6,347.6 C240.9,350.1 243.2,353.5 245.5,356.6 C247.8,359.7 250.1,363.1 252.4,366.3 C254.7,369.5 257.3,373.8 259.4,376.0 C261.5,378.2 262.6,378.2 264.9,379.5 C267.2,380.8 270.5,382.3 273.3,383.7 C276.1,385.1 279.1,386.3 281.6,387.8 C284.1,389.3 286.4,391.2 288.5,392.7 C290.6,394.2 291.2,396.1 294.1,396.8 C297.0,397.5 303.9,396.8 305.8,396.8" fill="none" stroke="#12a012" stroke-width="1.6"/>
<text x="63.5" y="317.4" font-size="9.6" text-anchor="start" fill="#333" font-weight="normal" textLength="16.7" lengthAdjust="spacingAndGlyphs">FUS</text>
<path d="M63,325.5 h7.5 M75.5,325.5 h7.5" stroke="#12a012" stroke-width="1.4"/>
<text x="85.4" y="329.0" font-size="9.6" text-anchor="start" fill="#333" font-weight="normal" textLength="49.0" lengthAdjust="spacingAndGlyphs">Raw Avg+SE</text>
<path d="M63,337.3 h19.5" stroke="#12a012" stroke-width="1.4"/>
<text x="85.4" y="340.8" font-size="9.6" text-anchor="start" fill="#333" font-weight="normal" textLength="38.5" lengthAdjust="spacingAndGlyphs">Smoothed</text>
<text x="60.0" y="358.1" font-size="9.6" text-anchor="start" fill="#333" font-weight="normal" textLength="54.6" lengthAdjust="spacingAndGlyphs">FUS+DNAJB6</text>
<path d="M59.3,366 h7.5 M71.5,366 h7.5" stroke="#ff8c1a" stroke-width="1.4"/>
<text x="81.0" y="369.5" font-size="9.6" text-anchor="start" fill="#333" font-weight="normal" textLength="54.6" lengthAdjust="spacingAndGlyphs">Raw Avg + SE</text>
<path d="M59.3,377.6 h20" stroke="#ff8c1a" stroke-width="1.4"/>
<text x="81.0" y="381.1" font-size="9.6" text-anchor="start" fill="#333" font-weight="normal" textLength="38.5" lengthAdjust="spacingAndGlyphs">Smoothed</text>
<rect x="403.5" y="306.0" width="259.1" height="215.2" fill="none" stroke="#111" stroke-width="1.4"/>
<path d="M403.5,325.3 h4.0 M662.6,325.3 h-4.5 M403.5,364.4 h3.0 M662.6,364.4 h-4.0 M403.5,403.5 h4.0 M662.6,403.5 h-4.5 M403.5,442.6 h3.0 M662.6,442.6 h-4.0 M403.5,481.7 h4.0 M662.6,481.7 h-4.5 M418.4,521.2 v-4.0 M418.4,306.0 v4.0 M454.4,521.2 v-3.0 M454.4,306.0 v3.0 M490.4,521.2 v-4.0 M490.4,306.0 v4.0 M526.4,521.2 v-3.0 M526.4,306.0 v3.0 M562.4,521.2 v-4.0 M562.4,306.0 v4.0 M598.4,521.2 v-3.0 M598.4,306.0 v3.0 M634.4,521.2 v-4.0 M634.4,306.0 v4.0" stroke="#111" stroke-width="1.1"/>
<text x="398.6" y="327.6" font-size="10.3" text-anchor="end" fill="#111" font-weight="normal" textLength="22.6" lengthAdjust="spacingAndGlyphs" stroke="#111" stroke-width="0.2">0.002</text>
<text x="398.6" y="405.8" font-size="10.3" text-anchor="end" fill="#111" font-weight="normal" textLength="22.6" lengthAdjust="spacingAndGlyphs" stroke="#111" stroke-width="0.2">0.000</text>
<text x="398.6" y="484.0" font-size="10.3" text-anchor="end" fill="#111" font-weight="normal" textLength="25.5" lengthAdjust="spacingAndGlyphs" stroke="#111" stroke-width="0.2">-0.002</text>
<text x="418.2" y="533.1" font-size="10.0" text-anchor="middle" fill="#111" font-weight="normal" textLength="19.6" lengthAdjust="spacingAndGlyphs">1700</text>
<text x="490.2" y="533.1" font-size="10.0" text-anchor="middle" fill="#111" font-weight="normal" textLength="19.6" lengthAdjust="spacingAndGlyphs">1675</text>
<text x="562.2" y="533.1" font-size="10.0" text-anchor="middle" fill="#111" font-weight="normal" textLength="19.6" lengthAdjust="spacingAndGlyphs">1650</text>
<text x="634.2" y="533.1" font-size="10.0" text-anchor="middle" fill="#111" font-weight="normal" textLength="19.6" lengthAdjust="spacingAndGlyphs">1625</text>
<text x="533.1" y="550.3" font-size="11.3" text-anchor="middle" fill="#111" font-weight="normal" textLength="100.0" lengthAdjust="spacingAndGlyphs">Wavenumber (cm-1)</text>
<text transform="translate(361.2,413.3) rotate(-90)" font-size="11" font-weight="bold" text-anchor="middle" fill="#111" textLength="99" lengthAdjust="spacingAndGlyphs">2nd derivative (a.u.)</text>
<line x1="436.6" y1="347.8" x2="436.6" y2="481.5" stroke="#f27a3a" stroke-width="1.5" stroke-dasharray="5.6 4.4"/>
<line x1="601.8" y1="306" x2="601.8" y2="312" stroke="#34b8f0" stroke-width="1.6"/>
<line x1="601.7" y1="352" x2="601.7" y2="446.5" stroke="#34b8f0" stroke-width="1.6" stroke-dasharray="5.6 4.4"/>
<line x1="624.2" y1="390.5" x2="624.2" y2="478" stroke="#f01424" stroke-width="1.6" stroke-dasharray="5.6 4.4"/>
<path d="M403.5,346.6 L405.9,347.3 L410.3,357.5 L414.7,372.1 L419.1,386.7 L424.2,401.3 L429.3,413.0 L436.6,421.0 L441.7,417.4 L446.8,404.2 L451.2,388.2 L454.8,373.6 L458.5,360.4 L463.6,358.2 L467.2,369.2 L471.6,383.8 L475.8,407.8 L481.0,428.9 L486.9,437.6 L495.0,433.0 L504.4,425.4 L509.0,416.0 L516.1,406.1 L520.7,411.4 L525.4,426.5 L530.1,448.7 L533.6,460.9 L538.7,477.7 L543.8,474.7 L550.4,463.8 L555.5,459.4 L561.3,450.7 L565.0,434.6 L568.6,405.7 L574.5,376.5 L578.8,359.7 L584.8,371.8 L589.5,401.0 L595.8,448.2 L601.7,457.1 L607.6,444.3 L613.5,432.4 L618.5,429.5 L625.4,412.7 L633.3,379.2 L638.2,359.4 L642.1,346.6 L648.0,359.4 L655.0,387.1 L661.9,416.6" fill="none" stroke="#12a012" stroke-width="2.1" stroke-linejoin="round"/>
<path d="M403.5,342.9 L405.9,342.9 L410.3,356.1 L413.9,369.2 L417.6,383.8 L423.4,399.9 L429.3,398.4 L435.1,391.8 L441.0,388.9 L446.8,391.1 L451.9,388.2 L457.7,379.4 L463.6,375.0 L469.4,381.6 L474.5,394.0 L479.9,407.8 L486.9,423.0 L495.0,431.2 L504.4,437.0 L510.2,427.7 L516.1,409.0 L521.3,406.1 L527.7,425.4 L531.2,448.7 L533.6,456.5 L538.0,485.7 L544.5,514.6 L550.4,503.2 L555.5,475.5 L559.9,452.1 L562.8,434.6 L567.2,404.2 L573.0,378.0 L578.8,377.2 L584.8,395.5 L590.8,411.7 L595.8,414.3 L601.7,402.8 L607.6,393.4 L613.5,404.8 L619.4,424.5 L625.0,439.3 L630.3,418.6 L635.2,385.1 L639.2,353.5 L643.1,334.8 L648.0,337.8 L653.0,363.4 L657.9,398.9 L661.9,430.5" fill="none" stroke="#ff8c1a" stroke-width="2.1" stroke-linejoin="round"/>
<path d="M580.5,465.6 H633.9 V460.6 L644.2,470.6 L633.9,481 V475.6 H580.5 Z" fill="#ff0000" stroke="#f06a30" stroke-width="1"/>
<line x1="624.4" y1="460.5" x2="624.4" y2="478" stroke="#f01424" stroke-width="1.6" stroke-dasharray="5.6 4.4" stroke-dashoffset="0.0"/>
<path d="M410,324.2 h23.8" stroke="#12a012" stroke-width="2.1"/>
<path d="M410,335.3 h23.8" stroke="#ff8c1a" stroke-width="2.1"/>
<text x="436.0" y="327.8" font-size="9.8" text-anchor="start" fill="#222" font-weight="normal" textLength="18.5" lengthAdjust="spacingAndGlyphs">FUS</text>
<text x="436.0" y="338.9" font-size="9.8" text-anchor="start" fill="#222" font-weight="normal" textLength="67.0" lengthAdjust="spacingAndGlyphs">FUS + DNAJB6</text>
<text x="461.6" y="499.0" font-size="11.5" text-anchor="middle" fill="#f08a50" font-weight="normal" textLength="73.4" lengthAdjust="spacingAndGlyphs">Intermolecular</text>
<text x="461.6" y="513.6" font-size="11.5" text-anchor="middle" fill="#f08a50" font-weight="normal" textLength="104.7" lengthAdjust="spacingAndGlyphs">Antiparallel&#160; β-sheet</text>
<text x="601.5" y="328.5" font-size="11.3" text-anchor="middle" fill="#34b8f0" font-weight="normal" textLength="31.8" lengthAdjust="spacingAndGlyphs">Native</text>
<text x="601.8" y="342.2" font-size="11.3" text-anchor="middle" fill="#34b8f0" font-weight="normal" textLength="39.5" lengthAdjust="spacingAndGlyphs">β-sheet</text>
<text x="609.3" y="498.6" font-size="11.5" text-anchor="middle" fill="#ee1c28" font-weight="normal" textLength="73.2" lengthAdjust="spacingAndGlyphs">Intermolecular</text>
<text x="609.3" y="513.0" font-size="11.5" text-anchor="middle" fill="#ee1c28" font-weight="normal" textLength="83.6" lengthAdjust="spacingAndGlyphs">Parallel&#160; β-sheet</text>
<path d="M61.3,566.7 V670.7 M61.3,681.5 V791.1 H446" stroke="#111" stroke-width="1.1" fill="none"/>
<path d="M57.0,566.6 h4.3 M57.0,611.1 h4.3 M57.0,655.6 h4.3 M58.8,633.3 h2.5 M57.0,791.1 h4.3 M57.0,760.6 h4.3 M57.0,730.1 h4.3 M57.0,699.6 h4.3 M58.8,775.9 h2.5 M58.8,745.4 h2.5 M58.8,714.9 h2.5 M58.8,684.4 h2.5 M253.3,791.1 v5" stroke="#111" stroke-width="1.1"/>
<path d="M59.3,679.6 L63.6,675.3 M59.5,683.2 L63.6,679.3" stroke="#111" stroke-width="1.1"/>
<text x="53.2" y="574.2" font-size="10.6" text-anchor="end" fill="#111" font-weight="normal">80</text>
<text x="53.2" y="618.7" font-size="10.6" text-anchor="end" fill="#111" font-weight="normal">70</text>
<text x="53.2" y="663.2" font-size="10.6" text-anchor="end" fill="#111" font-weight="normal">60</text>
<text x="53.2" y="707.0" font-size="10.6" text-anchor="end" fill="#111" font-weight="normal">15</text>
<text x="53.2" y="737.5" font-size="10.6" text-anchor="end" fill="#111" font-weight="normal">10</text>
<text x="53.2" y="768.0" font-size="10.6" text-anchor="end" fill="#111" font-weight="normal">5</text>
<text x="53.2" y="798.5" font-size="10.6" text-anchor="end" fill="#111" font-weight="normal">0</text>
<text transform="translate(29.4,677.4) rotate(-90)" font-size="11.8" text-anchor="middle" fill="#111" textLength="132.5" lengthAdjust="spacingAndGlyphs">Secondary Structure %</text>
<rect x="69.4" y="589.3" width="38.6" height="201.8" fill="#00ffff" stroke="#111" stroke-width="1.1"/>
<rect x="124.4" y="736.5" width="38.6" height="54.6" fill="#ff0000" stroke="#111" stroke-width="1.1"/>
<rect x="179.4" y="693.4" width="38.6" height="97.7" fill="#f0882a" stroke="#111" stroke-width="1.1"/>
<rect x="289.0" y="606.9" width="38.6" height="184.2" fill="#00ffff" stroke="#111" stroke-width="1.1"/>
<rect x="343.7" y="693.4" width="38.6" height="97.7" fill="#ff0000" stroke="#111" stroke-width="1.1"/>
<rect x="398.7" y="711.6" width="38.6" height="79.5" fill="#f0882a" stroke="#111" stroke-width="1.1"/>
<rect x="68.4" y="677.8" width="40.6" height="3.2" fill="#fff"/>
<rect x="288.0" y="677.8" width="40.6" height="3.2" fill="#fff"/>
<path d="M89.3,580.2 V598.1 M86.3,580.2 h6 M86.3,598.1 h6" stroke="#111" stroke-width="1.1"/>
<path d="M143.7,724.2 V748.8 M140.7,724.2 h6 M140.7,748.8 h6" stroke="#111" stroke-width="1.1"/>
<path d="M198.7,681.5 V705.7 M195.7,681.5 h6 M195.7,705.7 h6" stroke="#111" stroke-width="1.1"/>
<path d="M308.6,598.1 V615.6 M305.6,598.1 h6 M305.6,615.6 h6" stroke="#111" stroke-width="1.1"/>
<path d="M363.3,681.5 V706.4 M360.3,681.5 h6 M360.3,706.4 h6" stroke="#111" stroke-width="1.1"/>
<path d="M418.3,699.4 V724.6 M415.3,699.4 h6 M415.3,724.6 h6" stroke="#111" stroke-width="1.1"/>
<text x="144.1" y="810.1" font-size="14.5" text-anchor="middle" fill="#111" font-weight="normal">FUS</text>
<text x="366.3" y="810.1" font-size="14.5" text-anchor="middle" fill="#111" font-weight="normal" textLength="94.5" lengthAdjust="spacingAndGlyphs">FUS+DNAJB6</text>
<rect x="457.5" y="650.3" width="226.8" height="53.2" fill="#fff" stroke="#aaa" stroke-width="1"/>
<rect x="460" y="653.2" width="26.8" height="13.6" fill="#00ffff" stroke="#111" stroke-width="1"/>
<text x="491.2" y="664.1" font-size="12.2" text-anchor="start" fill="#111" font-weight="normal" textLength="149.5" lengthAdjust="spacingAndGlyphs">Native <tspan font-family="Liberation Serif, serif" font-size="13">β</tspan>-sheet, coils, turns</text>
<rect x="460" y="670.4" width="26.8" height="13.6" fill="#ff0000" stroke="#111" stroke-width="1"/>
<text x="491.2" y="681.6" font-size="12.2" text-anchor="start" fill="#111" font-weight="normal" textLength="172.0" lengthAdjust="spacingAndGlyphs">Intermolecular Parallel <tspan font-family="Liberation Serif, serif" font-size="13">β</tspan>-sheet</text>
<rect x="460" y="687.6" width="26.8" height="13.6" fill="#f0882a" stroke="#111" stroke-width="1"/>
<text x="491.2" y="698.2" font-size="12.2" text-anchor="start" fill="#111" font-weight="normal" textLength="193.0" lengthAdjust="spacingAndGlyphs">Intermolecular Antiparallel <tspan font-family="Liberation Serif, serif" font-size="13">β</tspan>-sheet</text>
</svg>
</body></html>
